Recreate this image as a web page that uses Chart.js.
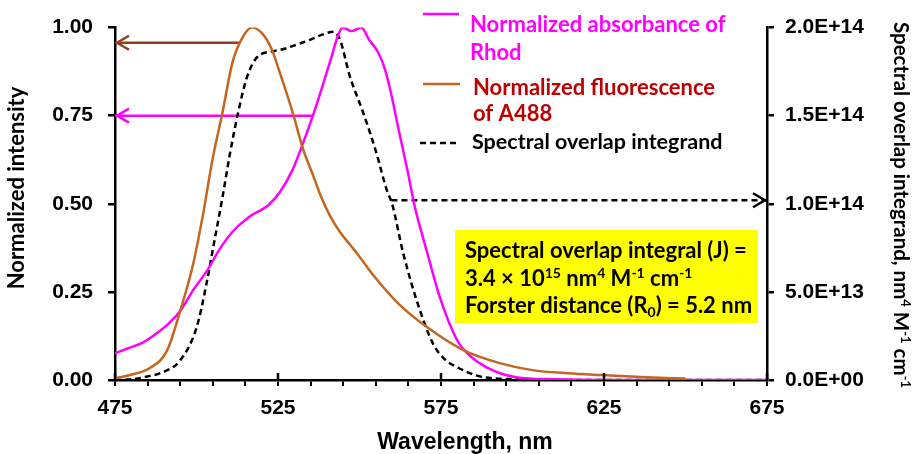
<!DOCTYPE html>
<html>
<head>
<meta charset="utf-8">
<script src="https://cdn.jsdelivr.net/npm/chart.js@4.4.1/dist/chart.umd.min.js"></script>
<style>
  html, body { margin: 0; padding: 0; background: #fff; }
  #wrap { width: 917px; height: 454px; }
</style>
</head>
<body>
<div id="wrap"><canvas id="fretChart" width="917" height="454"></canvas></div>
<script>
// Rhod absorbance (normalized)
const absWl  = [475, 479, 483.5, 488, 492, 495, 499, 503.5, 507, 511, 516, 522, 525.5, 529.5, 532,
                535.7, 538.5, 541.5, 543.5, 545, 547.5, 550.5, 553, 555.7, 557.8, 560, 562, 564.6,
                567, 570.7, 574.7, 580, 583, 589, 598, 610, 625, 675];
const absVal = [0.076, 0.09, 0.106, 0.134, 0.165, 0.196, 0.255, 0.314, 0.37, 0.42, 0.462, 0.496, 0.532, 0.597, 0.655,
                0.75, 0.83, 0.92, 0.98, 1.0, 0.99, 1.0, 0.965, 0.93, 0.882, 0.80, 0.71, 0.60,
                0.49, 0.364, 0.233, 0.112, 0.076, 0.036, 0.008, 0.002, 0.0, 0.0];

// A488 fluorescence (normalized)
const fluoWl  = [475, 480, 485.7, 491, 495, 499, 502, 505, 508, 511, 514, 517, 520, 523, 526, 529.6,
                 532.7, 536, 538, 541, 544, 547, 550, 554, 562, 571, 582, 593, 603, 614, 624, 638, 650];
const fluoVal = [0.005, 0.015, 0.034, 0.084, 0.196, 0.33, 0.47, 0.63, 0.76, 0.9, 0.97, 1.0, 0.985, 0.94, 0.86, 0.756,
                 0.655, 0.575, 0.525, 0.465, 0.42, 0.385, 0.35, 0.3, 0.216, 0.148, 0.084, 0.048, 0.028, 0.019, 0.014, 0.008, 0.004];

// spectral overlap integrand, nm^4 M^-1 cm^-1 (right axis)
const overlapWl  = [475, 480, 485, 489, 495, 500, 503, 505, 508, 510.3, 512.7, 515.5, 518.6, 523.5, 527,
                    531.7, 535, 538, 542, 544, 547, 551, 555, 558.4, 560, 563.3, 567.6, 572.5, 576, 580,
                    588, 600, 620, 675];
const overlapVal = [0, 0.004e14, 0.02e14, 0.04e14, 0.112e14, 0.296e14, 0.54e14, 0.74e14, 1.04e14, 1.288e14, 1.512e14, 1.72e14, 1.832e14, 1.866e14, 1.88e14,
                    1.91e14, 1.932e14, 1.956e14, 1.976e14, 1.932e14, 1.726e14, 1.524e14, 1.30e14, 1.076e14, 1.0e14, 0.728e14, 0.448e14, 0.208e14, 0.12e14, 0.072e14,
                    0.016e14, 0.004e14, 0, 0];

// arrows pointing each curve at its axis
const fluoArrowWl = [513.3, 475];
const fluoArrowVal = [0.957, 0.957];
const absArrowWl = [535.7, 475];
const absArrowVal = [0.75, 0.75];
const overlapArrowWl = [559.8, 675];
const overlapArrowVal = [1.02e14, 1.02e14];

// axis ticks and labels
const xTicks = [475, 525, 575, 625, 675];
const xTickLabels = ['475', '525', '575', '625', '675'];
const leftTicks = [0, 0.25, 0.5, 0.75, 1];
const leftTickLabels = ['0.00', '0.25', '0.50', '0.75', '1.00'];
const rightTicks = [0, 5e13, 1e14, 1.5e14, 2e14];
const rightTickLabels = ['0.0E+00', '5.0E+13', '1.0E+14', '1.5E+14', '2.0E+14'];

const AXIS_FONT = '"Liberation Sans", Arial, sans-serif';
const NOTE_FONT = 'Lato, "Open Sans", sans-serif';
const MAGENTA = '#ff00ff';
const BROWN = '#c4661f';
const BROWN_DARK = '#8e4020';
const DARK_RED = '#c00000';

const toPoints = (xs, ys) => xs.map((x, i) => ({ x, y: ys[i] }));

// text with superscript / subscript pieces: [text, '' | 'sup' | 'sub']
function drawRuns(ctx, runs, x, y, size, color, family) {
  const fam = family || NOTE_FONT;
  let cx = x;
  ctx.fillStyle = color;
  ctx.textAlign = 'left';
  ctx.textBaseline = 'alphabetic';
  runs.forEach(([t, m]) => {
    ctx.font = `bold ${m ? Math.round(size * 0.62) : size}px ${fam}`;
    const dy = m === 'sup' ? -size * 0.38 : m === 'sub' ? size * 0.2 : 0;
    ctx.fillText(t, cx, y + dy);
    cx += ctx.measureText(t).width;
  });
  return cx - x;
}
function runsWidth(ctx, runs, size, family) {
  const fam = family || NOTE_FONT;
  let w = 0;
  runs.forEach(([t, m]) => {
    ctx.font = `bold ${m ? Math.round(size * 0.62) : size}px ${fam}`;
    w += ctx.measureText(t).width;
  });
  return w;
}
// centred label, optionally rotated about its centre
function drawTitle(ctx, runs, cx, cy, size, angle, family) {
  const w = runsWidth(ctx, runs, size, family);
  ctx.save();
  ctx.translate(cx, cy);
  ctx.rotate(angle);
  drawRuns(ctx, runs, -w / 2, size * 0.36, size, '#000', family);
  ctx.restore();
}

const extras = {
  id: 'extras',
  afterDatasetsDraw(chart) {
    const { ctx, scales: { x, y, y2 } } = chart;
    // open arrowheads
    const heads = [
      [fluoArrowWl, fluoArrowVal, y, BROWN_DARK],
      [absArrowWl, absArrowVal, y, MAGENTA],
      [overlapArrowWl, overlapArrowVal, y2, '#000']
    ];
    ctx.save();
    ctx.lineWidth = 2.5;
    ctx.setLineDash([]);
    heads.forEach(([xs, ys, yScale, col]) => {
      const px = x.getPixelForValue(xs[1]);
      const py = yScale.getPixelForValue(ys[1]);
      const dir = xs[1] < xs[0] ? 1 : -1;
      ctx.strokeStyle = col;
      ctx.beginPath();
      ctx.moveTo(px + dir * 14, py - 7);
      ctx.lineTo(px + dir * 2, py);
      ctx.lineTo(px + dir * 14, py + 7);
      ctx.stroke();
    });
    ctx.restore();
  },
  afterDraw(chart) {
    const { ctx, chartArea: a, scales: { x } } = chart;
    ctx.save();

    // major x ticks also cross into the plot
    ctx.strokeStyle = '#000';
    ctx.lineWidth = 2.5;
    xTicks.forEach(v => {
      const px = x.getPixelForValue(v);
      ctx.beginPath();
      ctx.moveTo(px, a.bottom);
      ctx.lineTo(px, a.bottom - 7);
      ctx.stroke();
    });

    // legend
    ctx.lineWidth = 2.5;
    ctx.strokeStyle = MAGENTA;
    ctx.beginPath(); ctx.moveTo(423, 14); ctx.lineTo(459, 14); ctx.stroke();
    ctx.strokeStyle = BROWN;
    ctx.beginPath(); ctx.moveTo(423, 84); ctx.lineTo(460, 84); ctx.stroke();
    ctx.strokeStyle = '#000';
    ctx.setLineDash([6, 4]);
    ctx.beginPath(); ctx.moveTo(420, 143); ctx.lineTo(456, 143); ctx.stroke();
    ctx.setLineDash([]);
    const LS = 22;
    drawRuns(ctx, [['Normalized absorbance of', '']], 470, 32, LS, MAGENTA);
    drawRuns(ctx, [['Rhod', '']], 470, 60, LS, MAGENTA);
    drawRuns(ctx, [['Normalized fluorescence', '']], 473, 95, LS, DARK_RED);
    drawRuns(ctx, [['of A488', '']], 473, 121, LS, DARK_RED);
    drawRuns(ctx, [['Spectral overlap integrand', '']], 472, 149, 21.5, '#000');

    // overlap integral / Forster distance note
    ctx.fillStyle = '#ffff00';
    ctx.fillRect(455, 230, 303, 93);
    const NS = 22;
    drawRuns(ctx, [['Spectral overlap integral (J) =', '']], 465, 258, NS, '#000');
    drawRuns(ctx, [['3.4 × 10', ''], ['15', 'sup'], [' nm', ''], ['4', 'sup'], [' M', ''], ['-1', 'sup'], [' cm', ''], ['-1', 'sup']], 465, 286, NS, '#000');
    drawRuns(ctx, [['Forster distance (R', ''], ['0', 'sub'], [') = 5.2 nm', '']], 465, 313, NS, '#000');

    // axis titles
    drawTitle(ctx, [['Normalized intensity', '']], 16, 188, 22, -Math.PI / 2);
    drawTitle(ctx, [['Spectral overlap integrand, nm', ''], ['4', 'sup'], [' M', ''], ['-1', 'sup'], [' cm', ''], ['-1', 'sup']],
      901, 205, 20.5, Math.PI / 2);
    drawTitle(ctx, [['Wavelength, nm', '']], 465, 441, 23, 0, AXIS_FONT);
    ctx.restore();
  }
};

const lineSet = (label, data, color, axis, extra) => Object.assign({
  label, data, yAxisID: axis,
  borderColor: color, borderWidth: 2.5,
  pointRadius: 0, fill: false,
  cubicInterpolationMode: 'monotone'
}, extra || {});

const tickFont = { family: AXIS_FONT, size: 21, weight: 'bold' };

new Chart(document.getElementById('fretChart'), {
  type: 'line',
  data: {
    datasets: [
      lineSet('Normalized fluorescence of A488', toPoints(fluoWl, fluoVal), BROWN, 'y'),
      lineSet('Normalized absorbance of Rhod', toPoints(absWl, absVal), MAGENTA, 'y'),
      lineSet('Spectral overlap integrand', toPoints(overlapWl, overlapVal), '#000', 'y2', { borderDash: [6, 4] }),
      lineSet('fluo arrow', toPoints(fluoArrowWl, fluoArrowVal), BROWN_DARK, 'y', { clip: false }),
      lineSet('abs arrow', toPoints(absArrowWl, absArrowVal), MAGENTA, 'y', { clip: false }),
      lineSet('overlap arrow', toPoints(overlapArrowWl, overlapArrowVal), '#000', 'y2', { borderDash: [6, 4], clip: false })
    ]
  },
  options: {
    responsive: false,
    animation: false,
    layout: { padding: { top: 23, left: 0, right: 0, bottom: 0 } },
    plugins: { legend: { display: false }, tooltip: { enabled: false } },
    scales: {
      x: {
        type: 'linear',
        min: 475, max: 675,
        afterFit: s => { s.height = 74; },
        ticks: {
          stepSize: 10,
          autoSkip: false,
          maxRotation: 0,
          padding: 10,
          color: '#000',
          font: tickFont,
          callback: v => {
            const i = xTicks.indexOf(Math.round(v));
            return i >= 0 ? xTickLabels[i] : '';
          }
        },
        grid: { drawOnChartArea: false, drawTicks: true, tickLength: 6, color: '#000', lineWidth: 2 },
        border: { color: '#000', width: 2.5 }
      },
      y: {
        position: 'left',
        min: 0, max: 1,
        afterFit: s => { s.width = 115; },
        afterBuildTicks: s => { s.ticks = leftTicks.map(v => ({ value: v })); },
        ticks: {
          padding: 15,
          color: '#000',
          font: tickFont,
          callback: v => leftTickLabels[leftTicks.indexOf(v)]
        },
        grid: { drawOnChartArea: false, drawTicks: true, tickLength: 7, color: '#000', lineWidth: 2.5 },
        border: { color: '#000', width: 2.5 }
      },
      y2: {
        position: 'right',
        min: 0, max: 2e14,
        afterFit: s => { s.width = 150; },
        afterBuildTicks: s => { s.ticks = rightTicks.map(v => ({ value: v })); },
        ticks: {
          padding: 11,
          color: '#000',
          font: tickFont,
          callback: v => rightTickLabels[rightTicks.indexOf(v)]
        },
        grid: { drawOnChartArea: false, drawTicks: true, tickLength: 7, color: '#000', lineWidth: 2.5 },
        border: { color: '#000', width: 2.5 }
      }
    }
  },
  plugins: [extras]
});
</script>
</body>
</html>
